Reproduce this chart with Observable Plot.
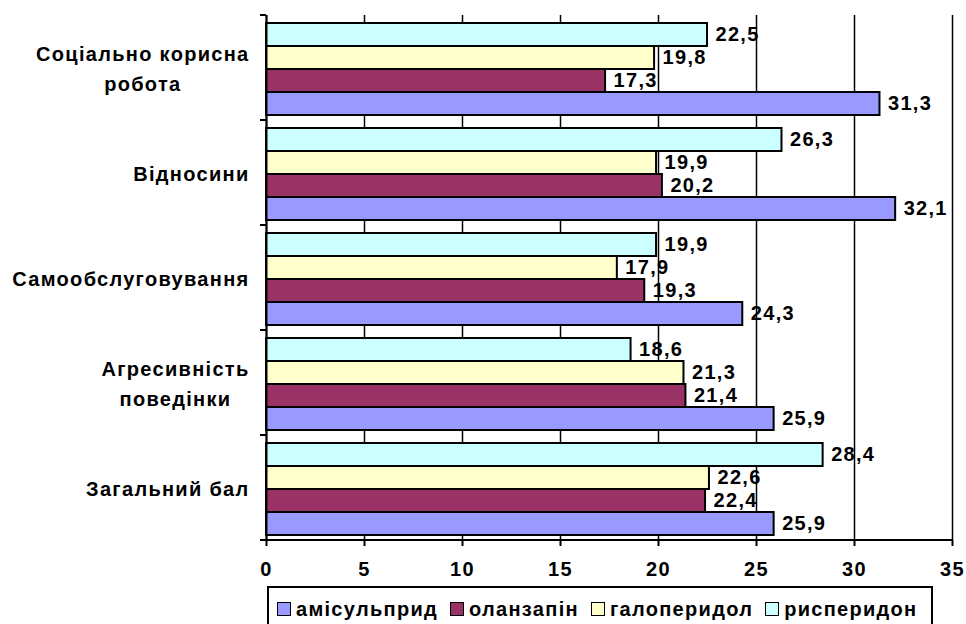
<!DOCTYPE html>
<html>
<head>
<meta charset="utf-8">
<script src="https://cdn.jsdelivr.net/npm/d3@7"></script>
<script src="https://cdn.jsdelivr.net/npm/@observablehq/plot@0.6"></script>
<style>
  html, body { margin: 0; padding: 0; background: #fff; overflow: hidden; }
  #wrap { position: relative; width: 966px; height: 624px; font-family: "Liberation Sans", Arial, sans-serif; }
  #legend { position: absolute; left: 267px; top: 586px; width: 666px; height: 60px; box-sizing: border-box;
    border: 2px solid #000; display: flex; align-items: flex-start; padding: 11px 0 0 8px;
    font-weight: bold; font-size: 20px; letter-spacing: 1.3px; color: #000; }
  #legend .item { display: flex; align-items: center; margin-right: 12px; height: 20px; }
  #legend .sw { width: 12px; height: 12px; border: 1.5px solid #000; margin-right: 5px; }
</style>
</head>
<body>
<div id="wrap"><div id="chart"></div><div id="legend"></div></div>
<script>
const categories = ["Соціально корисна\nробота", "Відносини", "Самообслуговування", "Агресивність\nповедінки", "Загальний бал"];
const series = ["амісульприд", "оланзапін", "галоперидол", "рисперидон"];
const seriesColors = ["#9999FF", "#993366", "#FFFFCC", "#CCFFFF"];
const amisulpride = [31.3, 32.1, 24.3, 25.9, 25.9];
const olanzapine = [17.3, 20.2, 19.3, 21.4, 22.4];
const haloperidol = [19.8, 19.9, 17.9, 21.3, 22.6];
const risperidone = [22.5, 26.3, 19.9, 18.6, 28.4];
const xTicks = [0, 5, 10, 15, 20, 25, 30, 35];

const seriesValues = [amisulpride, olanzapine, haloperidol, risperidone];
const rows = [];
categories.forEach((c, i) => series.forEach((s, j) => rows.push({category: c, series: s, value: seriesValues[j][i]})));
const fmt = v => String(v).replace(".", ",");

const FONT = "'Liberation Sans', Arial, sans-serif";
const chart = Plot.plot({
  width: 966,
  height: 586,
  marginLeft: 266,
  marginRight: 14,
  marginTop: 15,
  marginBottom: 46,
  style: {fontFamily: FONT, fontWeight: "bold", fontSize: "20px", color: "#000", background: "transparent", letterSpacing: "1.3px"},
  x: {domain: [0, 35], label: null},
  y: {domain: [...series].reverse(), paddingInner: 0, paddingOuter: 0.28, align: 0.6, axis: null},
  fy: {domain: categories, padding: 0, axis: null},
  color: {domain: series, range: seriesColors},
  marks: [
    Plot.gridX({ticks: xTicks, stroke: "#000", strokeOpacity: 1, strokeWidth: 1.5}),
    Plot.barX(rows, {fy: "category", y: "series", x: "value", fill: "series", stroke: "#000", strokeWidth: 2}),
    Plot.text(rows, {fy: "category", y: "series", x: "value", text: d => fmt(d.value), dx: 8, textAnchor: "start", fill: "#000"}),
    Plot.ruleX([0], {stroke: "#000", strokeWidth: 2}),
    Plot.text(categories, {fy: d => d, text: d => d, frameAnchor: "left", textAnchor: "end", dx: -17, dy: -2, lineHeight: 1.5, fill: "#000", className: "catlab"}),
    Plot.axisX({anchor: "bottom", ticks: xTicks, tickSize: 6, tickPadding: 15, stroke: "#000", strokeWidth: 2, fill: "#000", label: null, tickFormat: d => String(d)})
  ]
});
document.getElementById("chart").appendChild(chart);

// category boundary ticks and baseline, positioned with Plot's own fy and x scales
const fyDesc = chart.scale("fy");
const fy = d3.scaleBand().domain(fyDesc.domain).range(fyDesc.range).paddingInner(0).paddingOuter(0);
const xDesc = chart.scale("x");
const x = d3.scaleLinear().domain(xDesc.domain).range(xDesc.range);
const svg = d3.select(chart.tagName.toLowerCase() === "svg" ? chart : chart.querySelector("svg"));
const g = svg.append("g").attr("stroke", "#000").attr("stroke-width", 2);
const bounds = categories.map(c => fy(c)).concat([fy(categories[categories.length - 1]) + fy.bandwidth()]);
bounds.forEach(y => g.append("line").attr("x1", x(0) - 6).attr("x2", x(0)).attr("y1", y).attr("y2", y));
g.append("line").attr("x1", x(0) - 6).attr("x2", x(35)).attr("y1", bounds[bounds.length - 1]).attr("y2", bounds[bounds.length - 1]);

// center multi-line category labels within their right-aligned block
svg.selectAll("g.catlab text").each(function() {
  const tspans = Array.from(this.querySelectorAll("tspan"));
  if (tspans.length < 2) return;
  const widths = tspans.map(t => t.getComputedTextLength());
  const maxW = Math.max(...widths);
  tspans.forEach((t, i) => t.setAttribute("dx", -(maxW - widths[i]) / 2));
});

// legend
const legend = d3.select("#legend");
series.forEach((s, i) => {
  const item = legend.append("div").attr("class", "item");
  item.append("div").attr("class", "sw").style("background", seriesColors[i]);
  item.append("span").text(s);
});
</script>
</body>
</html>
